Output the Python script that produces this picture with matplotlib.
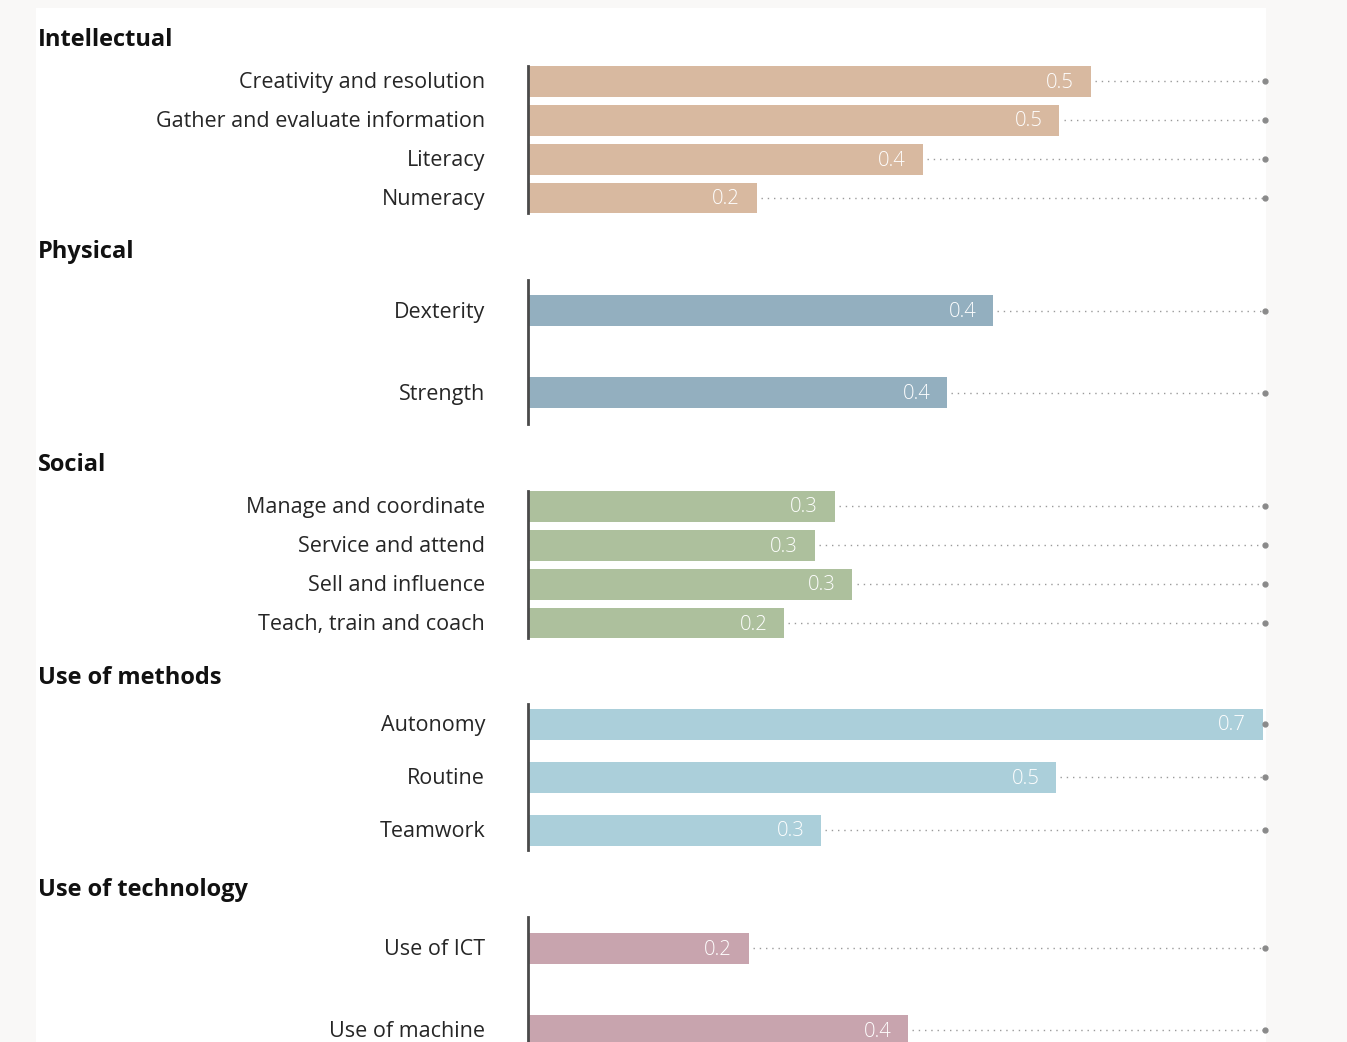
import matplotlib.pyplot as plt
from matplotlib.patches import Rectangle

# data
intellectual_labels = ['Creativity and resolution', 'Gather and evaluate information', 'Literacy', 'Numeracy']
intellectual_values = [0.536, 0.506, 0.376, 0.218]
physical_labels = ['Dexterity', 'Strength']
physical_values = [0.443, 0.399]
social_labels = ['Manage and coordinate', 'Service and attend', 'Sell and influence', 'Teach, train and coach']
social_values = [0.292, 0.273, 0.309, 0.244]
methods_labels = ['Autonomy', 'Routine', 'Teamwork']
methods_values = [0.7, 0.503, 0.279]
technology_labels = ['Use of ICT', 'Use of machine']
technology_values = [0.21, 0.362]

groups = [
    # title, labels, values, colour, first bar centre px, bar spacing px, title y px
    ('Intellectual', intellectual_labels, intellectual_values, '#d8b9a0', 81, 39, 38),
    ('Physical', physical_labels, physical_values, '#93afbf', 311, 82, 250),
    ('Social', social_labels, social_values, '#adc09d', 506, 39, 463),
    ('Use of methods', methods_labels, methods_values, '#abcfda', 724, 53, 676),
    ('Use of technology', technology_labels, technology_values, '#c8a4ae', 948, 82, 888),
]

W, H = 1347, 1042
FONT = 'Open Sans'
fig = plt.figure(figsize=(W / 100, H / 100), dpi=100)
fig.patch.set_facecolor('#f9f8f7')
fig.patches.append(Rectangle((36 / W, 0), (1266 - 36) / W, 1 - 8 / H,
                             transform=fig.transFigure, facecolor='white',
                             edgecolor='none', zorder=-10))

X0, X1 = 528, 1265
XMAX = 0.7 * (X1 - X0) / (1263 - X0)
BAR_PX = 31
PAD = 0.38  # spine overhang, in bar steps

for title, labels, values, colour, first_c, step, title_y in groups:
    n = len(labels)
    top = first_c - PAD * step
    bottom = first_c + (n - 1 + PAD) * step
    ax = fig.add_axes([X0 / W, 1 - bottom / H, (X1 - X0) / W, (bottom - top) / H])
    ax.set_facecolor('none')
    ypos = list(range(n))
    ax.set_ylim(n - 1 + PAD, -PAD)
    ax.set_xlim(0, XMAX)
    ax.barh(ypos, values, height=BAR_PX / step, color=colour, zorder=2)
    for y, v, lab in zip(ypos, values, labels):
        ax.plot([v + 0.004, XMAX], [y, y], ls=(0, (1, 3.5)), color='#9a9a9a',
                lw=1, zorder=1)
        ax.plot([XMAX], [y], 'o', color='#8a8a8a', ms=3.5, zorder=3, clip_on=False)
        ax.text(v - 0.016, y + 1.5 / step, f'{v:.1f}', color='white', ha='right',
                va='center', fontsize=14.5, family=FONT, fontweight='light', zorder=4)
        ax.text(-43 / (X1 - X0) * XMAX, y + 1.5 / step, lab, ha='right', va='center',
                fontsize=15.5, family=FONT, color='#262626')
    for s in ['top', 'right', 'bottom']:
        ax.spines[s].set_visible(False)
    ax.spines['left'].set_color('#4a4a4a')
    ax.spines['left'].set_linewidth(2)
    ax.set_xticks([])
    ax.set_yticks([])
    fig.text(38 / W, 1 - (title_y + 2) / H, title, ha='left', va='center',
             fontsize=17, fontweight='bold', family=FONT, color='#111111')

fig.savefig('out.png', dpi=100, facecolor=fig.get_facecolor())
